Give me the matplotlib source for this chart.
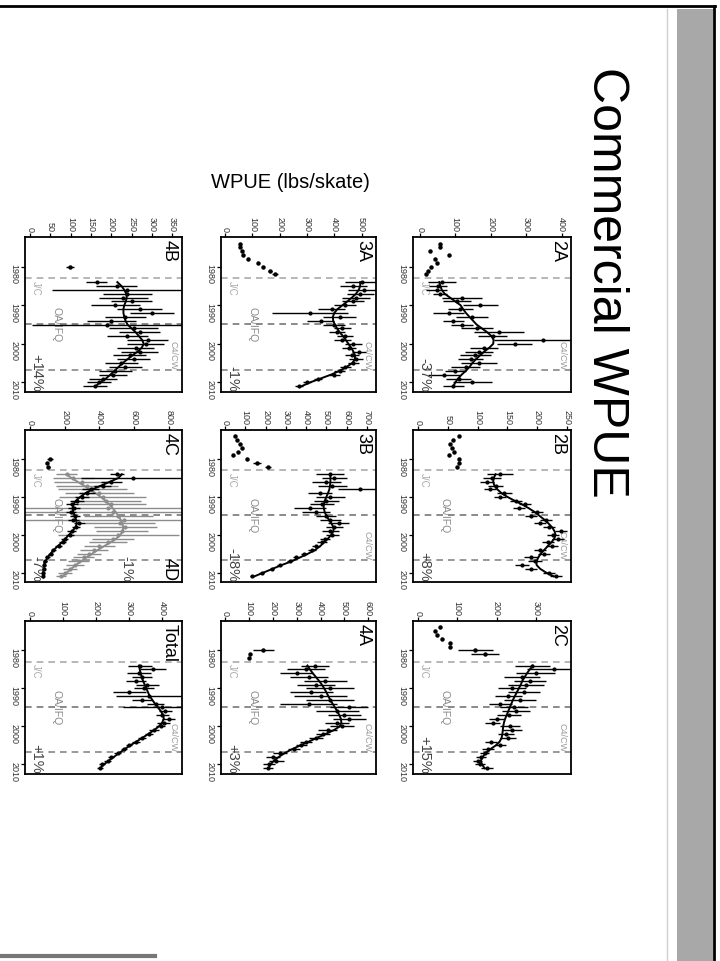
import matplotlib
matplotlib.use('Agg')
import matplotlib.pyplot as plt
from matplotlib.patches import Rectangle
from matplotlib.lines import Line2D

plt.rcParams['font.family'] = ['Liberation Sans', 'DejaVu Sans']

W, H = 720, 962

## data (rotated slide: WPUE runs left->right, years run top->bottom)
YRS = list(range(1984, 2012))
LINE_YRS = [1983.0, 1994.8, 2006.8]   # J/C, OA/IFQ, C4/CW

early_yr_2A = [1974, 1975, 1976, 1977, 1978, 1979, 1980, 1981, 1982]
early_val_2A = [57, 57, 29, 81, 43, 48, 33, 24, 19]
val_2A = [62, 52, 48, 57, 119, 105, 171, 114, 81, 148, 95, 119, 162, 224,
          205, 348, 267, 181, 167, 157, 143, 167, 129, 100, 67, 110, 148, 95]
err_2A = [40, 25, 30, 20, 55, 40, 50, 35, 45, 45, 30, 30, 45, 70,
          40, 140, 50, 40, 40, 45, 35, 50, 40, 30, 45, 35, 55, 30]
smooth_2A = [55, 58, 62, 70, 85, 100, 115, 122, 130, 140, 150, 160, 175, 190,
             202, 208, 207, 196, 182, 170, 158, 148, 140, 130, 118, 108, 100, 95]

early_yr_2B = [1974, 1975, 1976, 1977, 1978, 1979, 1980, 1981, 1982]
early_val_2B = [68, 59, 54, 56, 60, 51, 69, 68, 65]
val_2B = [138, 124, 115, 130, 120, 145, 138, 165, 180, 170, 200, 190, 215, 205,
          220, 240, 226, 235, 218, 225, 205, 212, 190, 196, 175, 190, 220, 232]
err_2B = [22, 15, 12, 12, 10, 12, 10, 10, 10, 10, 10, 10, 10, 10,
          10, 10, 10, 10, 10, 10, 10, 10, 12, 12, 12, 10, 10, 10]
smooth_2B = [130, 127, 126, 128, 133, 140, 150, 162, 175, 186, 196, 204, 212, 219,
             225, 229, 231, 229, 224, 218, 212, 206, 202, 199, 199, 205, 215, 228]

early_yr_2C = [1974, 1975, 1976, 1977, 1978, 1979, 1980, 1981]
early_val_2C = [56, 43, 47, 60, 81, 81, 146, 171]
early_err_2C = [0, 0, 0, 0, 0, 0, 45, 35]
val_2C = [291, 347, 300, 265, 285, 275, 240, 270, 230, 260, 210, 245, 250, 232,
          200, 190, 235, 240, 225, 230, 185, 210, 178, 170, 160, 152, 158, 175]
err_2C = [45, 70, 50, 45, 40, 45, 35, 40, 35, 40, 30, 35, 35, 30,
          20, 20, 25, 25, 20, 20, 15, 15, 15, 12, 12, 12, 12, 15]
smooth_2C = [293, 285, 278, 272, 266, 262, 257, 252, 247, 242, 238, 234, 230, 226,
             222, 219, 217, 216, 215, 213, 208, 198, 184, 172, 165, 160, 163, 170]

early_yr_3A = [1974, 1975, 1976, 1977, 1978, 1979, 1980, 1981, 1982]
early_val_3A = [55, 55, 61, 67, 85, 122, 140, 165, 183]
early_err_3A = [0, 0, 0, 0, 0, 0, 0, 8, 10]
val_3A = [500, 470, 510, 495, 480, 470, 440, 390, 311, 420, 350, 400, 430, 410,
          440, 430, 470, 455, 490, 465, 480, 470, 440, 420, 400, 340, 300, 270]
err_3A = [60, 50, 60, 50, 50, 40, 40, 50, 140, 60, 50, 40, 30, 30,
          30, 30, 30, 25, 25, 25, 25, 20, 20, 20, 20, 15, 15, 15]
smooth_3A = [495, 495, 490, 480, 465, 448, 430, 412, 400, 395, 396, 402, 410, 420,
             432, 442, 452, 462, 470, 476, 476, 466, 445, 420, 388, 350, 312, 280]

early_yr_3B = [1974, 1975, 1976, 1977, 1978, 1979, 1980, 1981, 1982]
early_val_3B = [49, 58, 74, 82, 66, 41, 107, 157, 214]
early_err_3B = [0, 0, 0, 0, 0, 0, 0, 20, 15]
val_3B = [519, 540, 500, 530, 667, 470, 520, 500, 480, 420, 450, 500, 520, 560,
          540, 520, 530, 495, 480, 450, 430, 390, 350, 320, 270, 230, 180, 135]
err_3B = [70, 60, 70, 70, 110, 60, 70, 60, 60, 80, 70, 50, 50, 50,
          40, 40, 30, 25, 25, 20, 20, 15, 15, 12, 12, 10, 10, 10]
smooth_3B = [520, 520, 520, 518, 515, 508, 500, 492, 487, 487, 492, 500, 512, 525,
             535, 535, 525, 508, 488, 470, 445, 410, 370, 330, 280, 235, 190, 145]

early_yr_4A = [1980, 1981, 1982]
early_val_4A = [160, 105, 100]
early_err_4A = [45, 0, 0]
val_4A = [377, 340, 300, 350, 420, 380, 440, 360, 400, 440, 350, 520, 470, 500,
          520, 470, 490, 430, 410, 380, 340, 320, 290, 230, 200, 215, 185, 180]
err_4A = [60, 80, 70, 80, 90, 80, 100, 90, 110, 100, 120, 80, 90, 70,
          70, 50, 50, 40, 30, 30, 25, 25, 25, 30, 30, 30, 25, 20]
smooth_4A = [345, 355, 367, 380, 393, 405, 415, 424, 432, 440, 450, 460, 470, 478,
             485, 487, 480, 455, 420, 385, 350, 315, 280, 250, 225, 205, 190, 182]

early_yr_4B = [1980]
early_val_4B = [98]
early_err_4B = [10]
val_4B = [164, 213, 240, 240, 230, 250, 210, 270, 300, 235, 200, 190, 255, 270,
          240, 290, 285, 260, 270, 245, 255, 225, 235, 210, 205, 180, 170, 160]
err_4B = [25, 50, 185, 60, 60, 50, 60, 55, 55, 50, 60, 186, 60, 50,
          50, 50, 45, 45, 45, 40, 40, 40, 40, 40, 35, 35, 30, 30]
smooth_4B = [215, 225, 232, 237, 238, 236, 232, 230, 230, 232, 235, 240, 250, 260,
             268, 276, 280, 275, 265, 252, 240, 228, 218, 208, 198, 187, 172, 162]

early_yr_4C = [1980, 1981, 1982]
early_val_4C = [115, 96, 106]
early_err_4C = [15, 0, 10]
val_4C = [500, 596, 470, 420, 350, 330, 300, 270, 240, 255, 235, 260, 250, 285,
          265, 240, 230, 200, 190, 165, 135, 120, 100, 88, 80, 78, 76, 72]
err_4C = [40, 300, 60, 50, 50, 45, 40, 40, 35, 35, 30, 30, 30, 30,
          25, 25, 25, 20, 20, 20, 15, 15, 15, 12, 12, 10, 10, 10]
smooth_4C = [530, 510, 460, 410, 360, 320, 290, 265, 250, 245, 250, 258, 265, 270,
             262, 245, 225, 205, 185, 160, 138, 118, 102, 90, 82, 78, 76, 75]
val_4D = [212, 250, 300, 330, 360, 400, 420, 440, 470, 450, 480, 510, 540, 520,
          550, 530, 510, 480, 450, 400, 370, 340, 310, 280, 260, 230, 200, 180]
err_4D = [60, 120, 160, 180, 200, 200, 250, 200, 200, 900, 900, 200, 900, 200,
          180, 150, 350, 120, 110, 90, 80, 70, 60, 60, 50, 40, 40, 30]
smooth_4D = [210, 240, 275, 310, 345, 378, 408, 435, 458, 478, 495, 510, 523, 533,
             538, 535, 522, 498, 465, 428, 392, 358, 325, 295, 265, 238, 212, 188]

val_T = [333, 373, 330, 340, 320, 355, 345, 300, 360, 340, 380, 400, 410, 400,
         420, 405, 395, 375, 360, 340, 320, 300, 285, 265, 245, 235, 218, 212]
err_T = [35, 40, 35, 30, 30, 35, 30, 50, 100, 30, 25, 120, 20, 20,
         20, 20, 15, 15, 12, 12, 12, 10, 10, 10, 10, 10, 8, 8]
smooth_T = [330, 332, 335, 338, 342, 347, 352, 357, 362, 370, 378, 387, 396, 403,
            405, 400, 390, 375, 358, 340, 322, 303, 286, 270, 254, 238, 224, 212]

## panel table: name, pixel box (x0, y0, x1, y1), WPUE limits, ticks, series, % text
panels = [
    dict(name='2A', box=(413, 238, 571, 393), xlim=(-19, 426), ticks=range(0, 401, 100),
         early=(early_yr_2A, early_val_2A, None), main=(val_2A, err_2A, smooth_2A),
         pct='-37%', oa=False),
    dict(name='2B', box=(413, 431, 571, 583), xlim=(-9, 257), ticks=range(0, 251, 50),
         early=(early_yr_2B, early_val_2B, None), main=(val_2B, err_2B, smooth_2B),
         pct='+8%', oa=True),
    dict(name='2C', box=(413, 622, 571, 775), xlim=(-13, 390), ticks=range(0, 301, 100),
         early=(early_yr_2C, early_val_2C, early_err_2C), main=(val_2C, err_2C, smooth_2C),
         pct='+15%', oa=True),
    dict(name='3A', box=(221, 238, 376, 393), xlim=(-15, 553), ticks=range(0, 501, 100),
         early=(early_yr_3A, early_val_3A, early_err_3A), main=(val_3A, err_3A, smooth_3A),
         pct='-1%', oa=True),
    dict(name='3B', box=(221, 431, 376, 583), xlim=(-20, 745), ticks=range(0, 701, 100),
         early=(early_yr_3B, early_val_3B, early_err_3B), main=(val_3B, err_3B, smooth_3B),
         pct='-18%', oa=True),
    dict(name='4A', box=(221, 622, 376, 775), xlim=(-17, 632), ticks=range(0, 601, 100),
         early=(early_yr_4A, early_val_4A, early_err_4A), main=(val_4A, err_4A, smooth_4A),
         pct='+3%', oa=True),
    dict(name='4B', box=(25, 238, 182, 393), xlim=(-12, 374), ticks=range(0, 351, 50),
         early=(early_yr_4B, early_val_4B, early_err_4B), main=(val_4B, err_4B, smooth_4B),
         pct='+14%', oa=True),
    dict(name='4C', box=(25, 431, 182, 583), xlim=(-29, 877), ticks=range(0, 801, 200),
         early=(early_yr_4C, early_val_4C, early_err_4C), main=(val_4C, err_4C, smooth_4C),
         pct='-7%', oa=True),
    dict(name='Total', box=(25, 622, 182, 775), xlim=(-15, 460), ticks=range(0, 401, 100),
         early=None, main=(val_T, err_T, smooth_T), pct='+1%', oa=True),
]

fig = plt.figure(figsize=(W / 100.0, H / 100.0), dpi=100, facecolor='w')

def fx(x):
    return x / float(W)

def fy(y):
    return 1 - y / float(H)

# slide decorations
fig.add_artist(Rectangle((fx(677), 0), fx(713) - fx(677), fy(10), transform=fig.transFigure,
                         facecolor='#a8a8a8', edgecolor='none'))
fig.add_artist(Line2D([fx(667), fx(667)], [fy(10), 0], transform=fig.transFigure,
                      color='#cfcfcf', lw=1))
fig.add_artist(Line2D([0, fx(715)], [fy(7), fy(7)], transform=fig.transFigure,
                      color='k', lw=2))
fig.add_artist(Line2D([fx(714), fx(714)], [fy(7), 0], transform=fig.transFigure,
                      color='k', lw=2))
fig.add_artist(Line2D([0, fx(155)], [fy(957), fy(957)], transform=fig.transFigure,
                      color='#777777', lw=3))

fig.text(fx(606), fy(282), 'Commercial WPUE', rotation=270, fontsize=36,
         ha='center', va='center')
fig.text(fx(290), fy(183), 'WPUE (lbs/skate)', fontsize=14.5, ha='center', va='center')

for p in panels:
    x0, y0, x1, y1 = p['box']
    ax = fig.add_axes([fx(x0), fy(y1), fx(x1) - fx(x0), fy(y0) - fy(y1)])
    ax.set_xlim(*p['xlim'])
    ax.set_ylim(2012.5, 1972.3)
    ax.xaxis.tick_top()
    ax.set_xticks(list(p['ticks']))
    ax.set_yticks([1980, 1990, 2000, 2010])
    ax.tick_params(axis='both', direction='out', length=3, width=0.9, pad=1.5,
                   labelsize=6.5, labelcolor='#333333')
    for lab in ax.get_xticklabels() + ax.get_yticklabels():
        lab.set_rotation(270)
    for s in ax.spines.values():
        s.set_linewidth(1.3)

    # period lines
    ax.axhline(LINE_YRS[0], color='#aaaaaa', ls=(0, (4, 3)), lw=1.2, zorder=1)
    if p['oa']:
        ax.axhline(LINE_YRS[1], color='#777777', ls=(0, (4, 3)), lw=1.2, zorder=1)
    ax.axhline(LINE_YRS[2], color='#888888', ls=(0, (4, 3)), lw=1.2, zorder=1)

    tr = ax.get_yaxis_transform()
    ax.text(0.04, LINE_YRS[0] + 0.4, 'J/C', transform=tr, rotation=270, fontsize=7,
            color='#aaaaaa', ha='left', va='top')
    if p['oa']:
        ax.text(0.2, LINE_YRS[1], 'OA/IFQ', transform=tr, rotation=270, fontsize=7.5,
                color='#888888', ha='center', va='center')
    if p['name'] != '4C':
        ax.text(0.97, LINE_YRS[2] - 0.3, 'C4/CW', transform=tr, rotation=270, fontsize=6.5,
                color='#999999', ha='right', va='bottom')

    # data
    if p['early'] is not None:
        eyr, evl, eer = p['early']
        if eer is None:
            ax.plot(evl, eyr, 'o', ms=2.2, color='k')
        else:
            ax.errorbar(evl, eyr, xerr=eer, fmt='o', ms=2.2, color='k',
                        elinewidth=1.0, capsize=0)
    vals, errs, smooth = p['main']
    if p['name'] == '4C':
        ax.errorbar(val_4D, YRS, xerr=err_4D, fmt='o', ms=2.0, color='#8c8c8c',
                    elinewidth=1.0, capsize=0, zorder=2)
        ax.plot(smooth_4D, YRS, color='#8c8c8c', lw=1.4, zorder=2)
    ax.errorbar(vals, YRS, xerr=errs, fmt='o', ms=2.0, color='k',
                elinewidth=1.0, capsize=0, zorder=3)
    ax.plot(smooth, YRS, color='k', lw=1.4, zorder=3)

    # labels
    ax.text(0.97, 0.985, p['name'], transform=ax.transAxes, rotation=270, fontsize=13,
            ha='right', va='top')
    ax.text(0.03, 2012.2, p['pct'], transform=tr, rotation=270, fontsize=10.5,
            color='#444444', ha='left', va='bottom')
    if p['name'] == '4C':
        ax.text(0.97, 0.015, '4D', transform=ax.transAxes, rotation=270, fontsize=13,
                ha='right', va='bottom')
        ax.text(0.6, 2012.2, '-1%', transform=tr, rotation=270, fontsize=10.5,
                color='#444444', ha='left', va='bottom')

plt.savefig('out.png', dpi=100, facecolor='w')
